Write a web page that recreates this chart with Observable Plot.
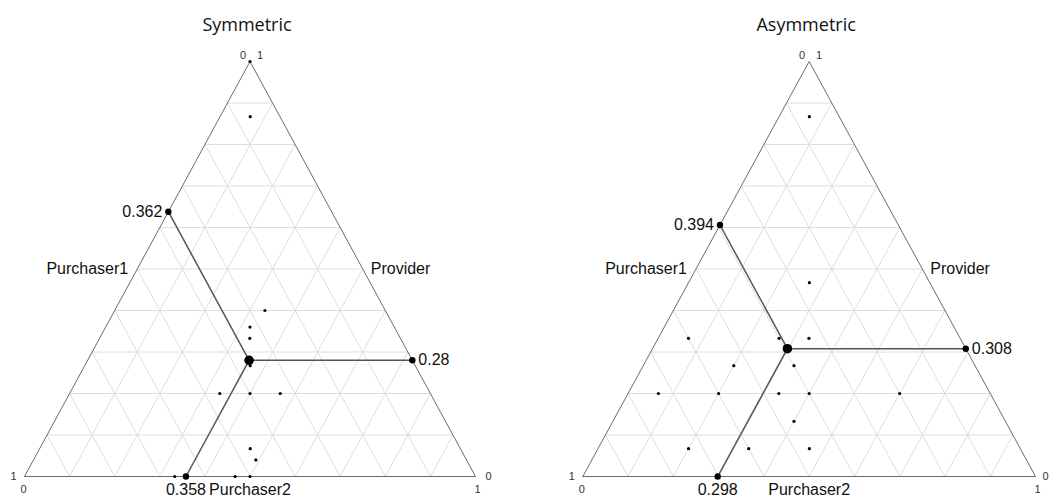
<!DOCTYPE html>
<html>
<head>
<meta charset="utf-8">
<script src="https://cdn.jsdelivr.net/npm/d3@7"></script>
<script src="https://cdn.jsdelivr.net/npm/@observablehq/plot@0.6"></script>
<style>
  html, body { margin: 0; padding: 0; background: #fff; }
  #wrap { display: flex; width: 1050px; height: 499px; overflow: hidden; }
</style>
</head>
<body>
<div id="wrap"></div>
<script>
// ---- data ----
const panelTitles = ["Symmetric", "Asymmetric"];
const axisNames = ["Purchaser1", "Provider", "Purchaser2"];

// Symmetric panel: individual observations (shares)
const symPurchaser1 = [0, 0.067, 0.267, 0.32, 0.333, 0.367, 0.467, 0.4, 0.333, 0.467, 0.467, 0.667, 0.533, 0.5];
const symProvider   = [1, 0.867, 0.4,   0.36, 0.333, 0.267, 0.2,   0.2, 0.2,   0.067, 0.04,  0,     0,     0];
const symPurchaser2 = [0, 0.067, 0.333, 0.32, 0.333, 0.367, 0.333, 0.4, 0.467, 0.467, 0.493, 0.333, 0.467, 0.5];
const symMean = [0.362, 0.28, 0.358];

// Asymmetric panel: individual observations (shares)
const asymPurchaser1 = [0.067, 0.267, 0.6,   0.4,   0.333, 0.533, 0.4,   0.733, 0.6, 0.467, 0.4, 0.2, 0.467, 0.733, 0.6,   0.467];
const asymProvider   = [0.867, 0.467, 0.333, 0.333, 0.333, 0.267, 0.267, 0.2,   0.2, 0.2,   0.2, 0.2, 0.133, 0.067, 0.067, 0.067];
const asymPurchaser2 = [0.067, 0.267, 0.067, 0.267, 0.333, 0.2,   0.333, 0.067, 0.2, 0.333, 0.4, 0.6, 0.4,   0.2,   0.333, 0.467];
const asymMean = [0.394, 0.308, 0.298];

const gridTicks = [0.1, 0.2, 0.3, 0.4, 0.5, 0.6, 0.7, 0.8, 0.9];
const cornerTicks = ["0", "1"];

// ternary -> cartesian (x along base, y = height fraction)
const tx = (p1, pv, p2) => p2 + pv / 2;
const ty = (p1, pv, p2) => pv;

function panel(title, p1s, pvs, p2s, mean, xRange, rightCornerDx) {
  const pts = p1s.map((p1, i) => ({x: tx(p1, pvs[i], p2s[i]), y: ty(p1, pvs[i], p2s[i])}));
  const [m1, mv, m2] = mean;
  const center = {x: tx(m1, mv, m2), y: ty(m1, mv, m2)};
  const ends = [
    {x: tx(m1, 1 - m1, 0), y: ty(m1, 1 - m1, 0), label: String(m1), anchor: "end", dx: -6, dy: 0},
    {x: tx(0, mv, 1 - mv), y: ty(0, mv, 1 - mv), label: String(mv), anchor: "start", dx: 6, dy: 0},
    {x: tx(1 - m2, 0, m2), y: ty(1 - m2, 0, m2), label: String(m2), anchor: "middle", dx: 0, dy: 13}
  ];
  const grid = [];
  for (const t of gridTicks) {
    grid.push({a: [1 - t, t, 0], b: [0, t, 1 - t]});   // constant Provider
    grid.push({a: [1 - t, 0, t], b: [0, 1 - t, t]});   // constant Purchaser2
    grid.push({a: [t, 0, 1 - t], b: [t, 1 - t, 0]});   // constant Purchaser1
  }
  const gl = grid.map(g => ({x1: tx(...g.a), y1: ty(...g.a), x2: tx(...g.b), y2: ty(...g.b)}));
  const corners = [[1, 0, 0], [0, 1, 0], [0, 0, 1]].map(c => ({x: tx(...c), y: ty(...c)}));
  const outline = [corners[0], corners[1], corners[2], corners[0]];
  const cornerLabels = [
    {x: corners[1].x, y: corners[1].y, t: cornerTicks[0], dx: -7, dy: -6},
    {x: corners[1].x, y: corners[1].y, t: cornerTicks[1], dx: 10, dy: -6},
    {x: corners[0].x, y: corners[0].y, t: cornerTicks[1], dx: -11, dy: 0},
    {x: corners[0].x, y: corners[0].y, t: cornerTicks[0], dx: -1, dy: 13},
    {x: corners[2].x, y: corners[2].y, t: cornerTicks[0], dx: rightCornerDx, dy: 0},
    {x: corners[2].x, y: corners[2].y, t: cornerTicks[1], dx: 2, dy: 13}
  ];
  const axisLabels = [
    {x: tx(0.5, 0.5, 0), y: 0.5, t: axisNames[0], anchor: "end", dx: -9, dy: 0},
    {x: tx(0, 0.5, 0.5), y: 0.5, t: axisNames[1], anchor: "start", dx: 8, dy: 0},
    {x: 0.5, y: 0, t: axisNames[2], anchor: "middle", dx: 0, dy: 13}
  ];
  const font = "Liberation Sans, Arial, sans-serif";
  return Plot.plot({
    width: 525, height: 499, margin: 0,
    x: {domain: [0, 1], range: xRange, axis: null},
    y: {domain: [0, 1], range: [476, 61], axis: null},
    style: {fontFamily: font, background: "#fff"},
    marks: [
      Plot.link(gl, {x1: "x1", y1: "y1", x2: "x2", y2: "y2", stroke: "#dedede", strokeWidth: 1}),
      Plot.line(outline, {x: "x", y: "y", stroke: "#6a6a6a", strokeWidth: 1}),
      Plot.link(ends, {x1: center.x, y1: center.y, x2: "x", y2: "y", stroke: "#555", strokeWidth: 1.5}),
      Plot.dot(pts, {x: "x", y: "y", r: 1.6, fill: "#000", stroke: "none"}),
      Plot.dot(ends, {x: "x", y: "y", r: 3.2, fill: "#000", stroke: "none"}),
      Plot.dot([center], {x: "x", y: "y", r: 4.8, fill: "#000", stroke: "none"}),
      ...ends.map(e => Plot.text([e], {x: "x", y: "y", text: "label", textAnchor: e.anchor, dx: e.dx, dy: e.dy, fontSize: 16, fill: "#111"})),
      ...axisLabels.map(a => Plot.text([a], {x: "x", y: "y", text: "t", textAnchor: a.anchor, dx: a.dx, dy: a.dy, fontSize: 16, fill: "#111"})),
      ...cornerLabels.map(c => Plot.text([c], {x: "x", y: "y", text: "t", dx: c.dx, dy: c.dy, fontSize: 11, fill: "#333"})),
      Plot.text([title], {x: 0.5, frameAnchor: "top", dy: 18, dx: -3, text: d => d, fontSize: 18, fontFamily: "Open Sans, sans-serif", fill: "#111"})
    ]
  });
}

const wrap = document.getElementById("wrap");
wrap.appendChild(panel(panelTitles[0], symPurchaser1, symProvider, symPurchaser2, symMean, [24, 475], 13));
wrap.appendChild(panel(panelTitles[1], asymPurchaser1, asymProvider, asymPurchaser2, asymMean, [57.3, 510], 10));
</script>
</body>
</html>
